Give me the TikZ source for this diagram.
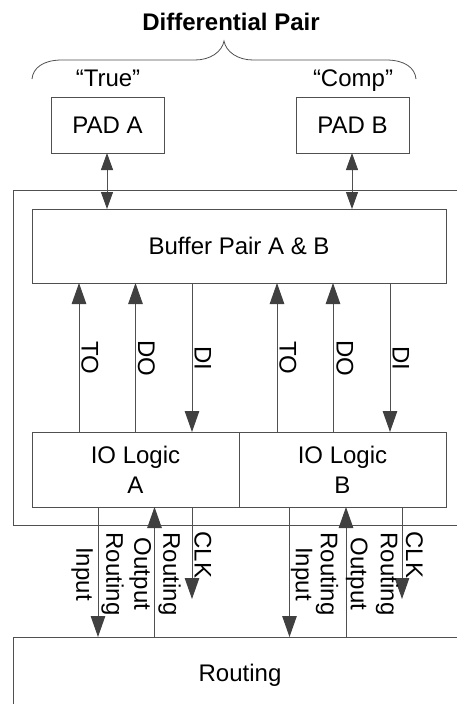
\documentclass[tikz,border=0pt]{standalone}
\usepackage{fontspec}
\setmainfont{Liberation Sans}
\usetikzlibrary{arrows.meta}
\definecolor{linegray}{HTML}{505050}
\definecolor{headgray}{HTML}{404040}
\tikzset{
  box/.style={draw=linegray,line width=1pt,rectangle,inner sep=0pt,outer sep=0pt,align=center,font=\fontsize{24}{30}\selectfont},
  lab/.style={inner sep=0pt,outer sep=0pt,align=center,font=\fontsize{24}{27}\selectfont},
  vlab/.style={lab,rotate=-90},
  conn/.style={draw=linegray,line width=1pt},
  oneway/.style={conn,-{Triangle[length=21pt,width=14.5pt,fill=headgray,color=headgray]}},
  twoway/.style={conn,{Triangle[length=17pt,width=12pt,fill=headgray,color=headgray]}-{Triangle[length=17pt,width=12pt,fill=headgray,color=headgray]}},
}
\begin{document}
\begin{tikzpicture}[x=1pt,y=-1pt]
\clip (0,0) rectangle (457,704);
% containers
\node[box,minimum width=460pt,minimum height=335pt] (outer) at (243.5,357.5) {};
\node[box,minimum width=453pt,minimum height=76pt] (routing) at (240,675) {Routing};
% boxes
\node[box,minimum width=113pt,minimum height=56pt] (padA) at (107.5,125) {PAD A};
\node[box,minimum width=113pt,minimum height=56pt] (padB) at (352.5,125) {PAD B};
\node[box,minimum width=414pt,minimum height=74pt] (buf) at (239,246) {Buffer Pair A \& B};
\node[box,minimum width=207pt,minimum height=75pt] (ioA) at (135.5,469.5) {IO Logic\\A};
\node[box,minimum width=207pt,minimum height=75pt] (ioB) at (342.5,469.5) {IO Logic\\B};
% top labels
\node[lab,font=\fontsize{24}{26}\bfseries\selectfont] (title) at (231,22) {Differential Pair};
\node[lab,anchor=base] (true) at (108,86) {“True”};
\node[lab,anchor=base] (comp) at (353,86) {“Comp”};
% brace
\draw[conn,line width=0.8pt] (32,79) .. controls (33,68) and (43,60) .. (62,60)
  -- (195,60) .. controls (210,60) and (222,52) .. (224,41)
  .. controls (226,52) and (238,60) .. (253,60)
  -- (386,60) .. controls (405,60) and (415,68) .. (416,79);
% x positions
\coordinate (xa) at (107,0);
\coordinate (xb) at (352,0);
\coordinate (toA) at (79,0);
\coordinate (doA) at (135.5,0);
\coordinate (diA) at (192,0);
\coordinate (toB) at (277,0);
\coordinate (doB) at (333,0);
\coordinate (diB) at (390,0);
\coordinate (inA) at (98,0);
\coordinate (ouA) at (154.5,0);
\coordinate (inB) at (289.5,0);
\coordinate (ouB) at (346,0);
\coordinate (clkAend) at (192,599);
\coordinate (clkBend) at (402,599);
% connectors
\draw[twoway] (padA.south -| xa) -- (buf.north -| xa);
\draw[twoway] (padB.south -| xb) -- (buf.north -| xb);
\draw[oneway] (ioA.north -| toA) -- (buf.south -| toA);
\draw[oneway] (ioA.north -| doA) -- (buf.south -| doA);
\draw[oneway] (buf.south -| diA) -- (ioA.north -| diA);
\draw[oneway] (ioB.north -| toB) -- (buf.south -| toB);
\draw[oneway] (ioB.north -| doB) -- (buf.south -| doB);
\draw[oneway] (buf.south -| diB) -- (ioB.north -| diB);
\draw[oneway] (ioA.south -| inA) -- (routing.north -| inA);
\draw[oneway] (routing.north -| ouA) -- (ioA.south -| ouA);
\draw[oneway] (ioA.south -| clkAend) -- (clkAend);
\draw[oneway] (ioB.south -| inB) -- (routing.north -| inB);
\draw[oneway] (routing.north -| ouB) -- (ioB.south -| ouB);
\draw[oneway] (ioB.south -| clkBend) -- (clkBend);
% rotated labels
\node[vlab] (lToA) at (90,358) {TO};
\node[vlab] (lDoA) at (146.5,358) {DO};
\node[vlab] (lDiA) at (203,358) {DI};
\node[vlab] (lToB) at (288,358) {TO};
\node[vlab] (lDoB) at (345,358) {DO};
\node[vlab] (lDiB) at (401,358) {DI};
\node[vlab] (lInA) at (97.5,574) {Routing\\[3pt]Input};
\node[vlab] (lOuA) at (155,574) {Routing\\[2pt]Output};
\node[vlab] (lClkA) at (203,555) {CLK};
\node[vlab] (lInB) at (314.5,574) {Routing\\[-2pt]Input};
\node[vlab] (lOuB) at (372,574) {Routing\\[3pt]Output};
\node[vlab] (lClkB) at (414.5,555) {CLK};
\end{tikzpicture}
\end{document}
